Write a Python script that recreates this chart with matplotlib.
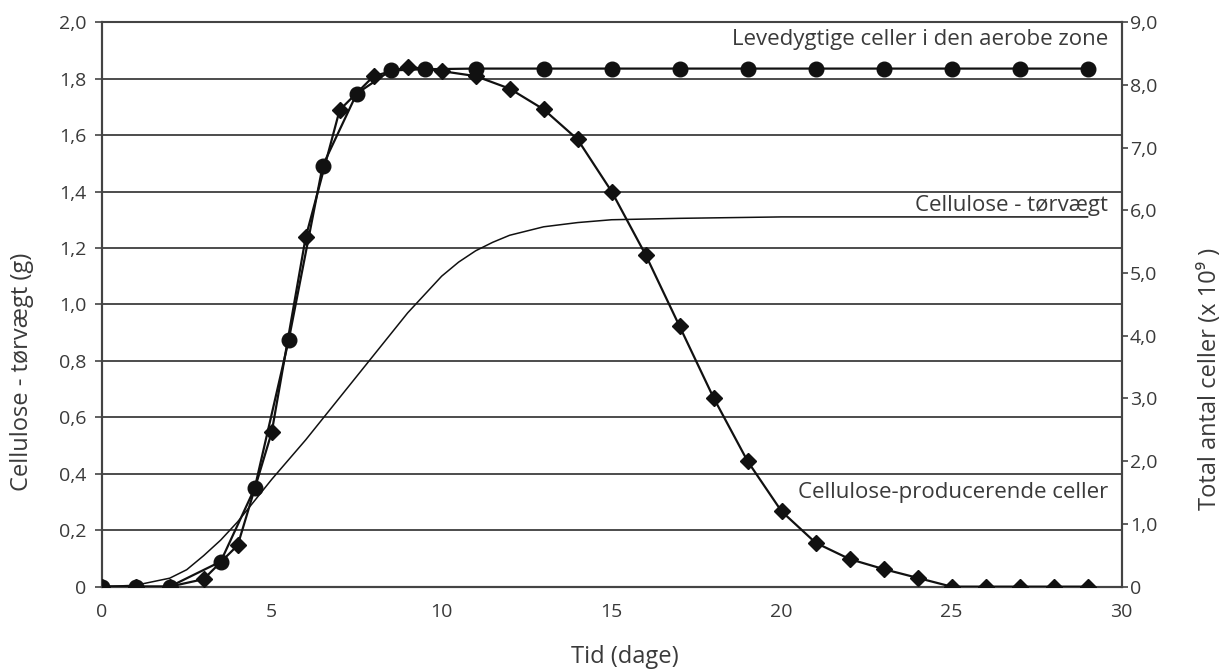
import matplotlib
matplotlib.use("Agg")
import matplotlib.pyplot as plt
from matplotlib.ticker import FixedLocator

plt.rcParams['font.family'] = ['Open Sans', 'DejaVu Sans']

# Data
# Cellulose dry weight (g), left axis
cellulose_days = [0, 1, 2, 2.5, 3, 3.5, 4, 5, 6, 7, 8, 9, 10, 10.5, 11, 11.5, 12, 13, 14, 15, 17, 20, 25, 29]
cellulose_g = [0.0, 0.005, 0.03, 0.06, 0.11, 0.165, 0.23, 0.38, 0.52, 0.67, 0.82, 0.97, 1.10, 1.15,
               1.19, 1.22, 1.245, 1.275, 1.29, 1.30, 1.305, 1.31, 1.31, 1.31]

# Viable cells in the aerobe zone (x 10^9), right axis
viable_days = [0, 1, 2, 3.5, 4.5, 5.5, 6.5, 7.5, 8.5, 9.5, 11, 13, 15, 17, 19, 21, 23, 25, 27, 29]
viable_cells = [0, 0, 0, 0.4, 1.57, 3.93, 6.71, 7.86, 8.23, 8.25, 8.26, 8.26, 8.26, 8.26, 8.26,
                8.26, 8.26, 8.26, 8.26, 8.26]

# Cellulose-producing cells (x 10^9), right axis
producer_days = list(range(0, 30))
producer_cells = [0, 0, 0, 0.12, 0.66, 2.46, 5.57, 7.6, 8.14, 8.29, 8.22, 8.14, 7.94, 7.61, 7.13,
                  6.30, 5.29, 4.15, 3.01, 2.00, 1.20, 0.70, 0.44, 0.28, 0.14, 0, 0, 0, 0, 0]

left_ticks = [0, 0.2, 0.4, 0.6, 0.8, 1.0, 1.2, 1.4, 1.6, 1.8, 2.0]
left_labels = ["0", "0,2", "0,4", "0,6", "0,8", "1,0", "1,2", "1,4", "1,6", "1,8", "2,0"]
right_ticks = [0, 1, 2, 3, 4, 5, 6, 7, 8, 9]
right_labels = ["0", "1,0", "2,0", "3,0", "4,0", "5,0", "6,0", "7,0", "8,0", "9,0"]
x_ticks = [0, 5, 10, 15, 20, 25, 30]

TXT = '#3a3a3a'
LINE = '#111111'
GRID = '#2e2e2e'

fig = plt.figure(figsize=(12.24, 6.72), dpi=100)
ax = fig.add_axes([0.0831, 0.127, 0.8332, 0.840])
ax2 = ax.twinx()

# gridlines at left ticks
for v in left_ticks[1:]:
    ax.axhline(v, color=GRID, lw=1.2, zorder=1)

ax.plot(cellulose_days, cellulose_g, color=LINE, lw=1.1, zorder=3)

ax2.plot(producer_days, producer_cells, color=LINE, lw=1.6, marker='D', ms=8,
         markerfacecolor=LINE, markeredgecolor=LINE, zorder=3)
ax2.plot(viable_days, viable_cells, color=LINE, lw=1.6, marker='o', ms=10.5,
         markerfacecolor=LINE, markeredgecolor=LINE, zorder=4)

ax.set_xlim(0, 30)
ax.set_ylim(0, 2.0)
ax2.set_ylim(0, 9.0)

ax.set_yticks(left_ticks)
ax.set_yticklabels(left_labels)
ax2.set_yticks(right_ticks)
ax2.set_yticklabels(right_labels)
ax.set_xticks(x_ticks)
ax.set_xticklabels([str(t) for t in x_ticks])
ax.xaxis.set_minor_locator(FixedLocator([0, 30]))

ax.tick_params(axis='x', which='major', length=0, pad=12, labelsize=14, labelcolor=TXT)
ax.tick_params(axis='x', which='minor', length=9, width=1.5, color='#444444', direction='out')
ax.tick_params(axis='y', length=5, width=1.2, color='#444444', pad=6, labelsize=14, labelcolor=TXT)
ax2.tick_params(axis='y', length=4, width=1.2, color='#444444', pad=2, labelsize=14, labelcolor=TXT)

for a in (ax, ax2):
    for s in a.spines.values():
        s.set_color('#444444')
        s.set_linewidth(1.5)
ax.spines['bottom'].set_color(GRID)
ax.spines['top'].set_color(GRID)
ax.spines['top'].set_linewidth(1.2)

# axis titles
fig.text(0.5106, 1 - 657 / 672, "Tid (dage)", ha='center', va='center', fontsize=17, color=TXT)
fig.text(22 / 1224, 1 - 372 / 672, "Cellulose - tørvægt (g)", ha='center', va='center',
         rotation=90, fontsize=17, color=TXT)
fig.text(1210 / 1224, 1 - 379 / 672, "Total antal celler (x 10⁹ )", ha='center', va='center',
         rotation=90, fontsize=17, color=TXT)

ax.text(29.6, 1.94, "Levedygtige celler i den aerobe zone", ha='right', va='center',
        fontsize=16, color=TXT, zorder=5)
ax.text(29.6, 1.35, "Cellulose - tørvægt", ha='right', va='center',
        fontsize=16, color=TXT, zorder=5)
ax.text(29.6, 0.332, "Cellulose-producerende celler", ha='right', va='center',
        fontsize=16, color=TXT, zorder=5)

fig.savefig("out.png", dpi=100)
